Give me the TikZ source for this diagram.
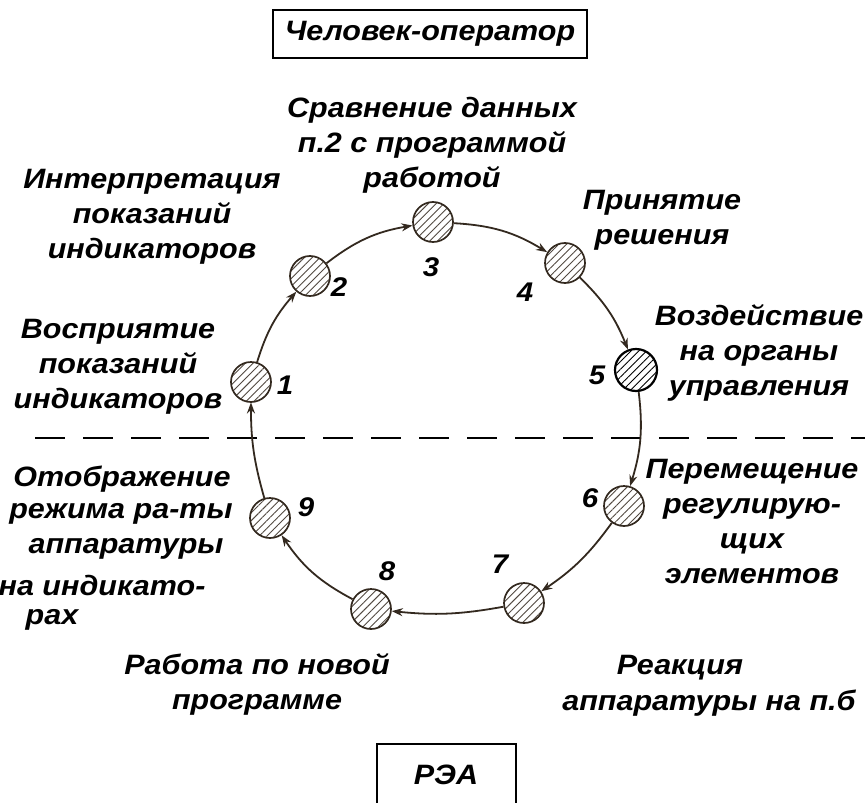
\documentclass[tikz,border=0pt]{standalone}
\usepackage{fontspec}
\setmainfont{Liberation Sans}[FakeStretch=1.09]
\usetikzlibrary{arrows.meta,patterns.meta}
\definecolor{ln}{HTML}{33291F}
\tikzset{
  st/.style={circle, draw=ln, line width=1.7pt, minimum size=40pt, inner sep=0pt,
    pattern={Lines[angle=45,distance=5.5pt,line width=0.9pt]}, pattern color=ln!85},
  lbl/.style={font=\fontsize{28}{35}\selectfont\bfseries\itshape, align=center, inner sep=0pt},
  num/.style={font=\fontsize{27}{30}\selectfont\bfseries\itshape, inner sep=0pt},
  con/.style={draw=ln, line width=1.8pt, -{Stealth[length=11pt,width=8pt]}},
  box/.style={draw, line width=2pt, inner sep=0pt, font=\fontsize{28}{30}\selectfont\bfseries\itshape},
}
\begin{document}
\begin{tikzpicture}[x=1pt,y=-1pt]
\fill[white] (0,0) rectangle (865,803);
\useasboundingbox (0,0) rectangle (865,803);

% boxes
\node[box, minimum width=314pt, minimum height=48pt] (op) at (430,34) {Человек-оператор};
\node[box, minimum width=139pt, minimum height=80pt, anchor=north] (rea) at (446,743) {};
\node[lbl] (reat) at (446,775) {РЭА};

% dashed boundary
\draw[dash pattern=on 30pt off 18pt, line width=2.5pt] (35,438) -- (865,438);

% stations
\node[st] (s1) at (251,382) {};
\node[st] (s2) at (310,276) {};
\node[st] (s3) at (433,222) {};
\node[st] (s4) at (565,263) {};
\node[st, minimum size=42pt, draw=black, line width=2.2pt, pattern color=black] (s5) at (636,370) {};
\node[st] (s6) at (624,506) {};
\node[st] (s7) at (524,603) {};
\node[st] (s8) at (371,609) {};
\node[st] (s9) at (270,518) {};

% connectors
\draw[con] (s1) to[bend left=12] (s2);
\draw[con] (s2) to[bend left=14] (s3);
\draw[con] (s3) to[bend left=14] (s4);
\draw[con] (s4) to[bend left=12] (s5);
\draw[con] (s5) to[bend left=12] (s6);
\draw[con] (s6) to[bend left=10] (s7);
\draw[con] (s7) to[bend left=8] (s8);
\draw[con] (s8) to[bend left=14] (s9);
\draw[con] (s9) to[bend left=8] (s1);

% numbers
\node[num] (n1) at (285,385) {1};
\node[num] (n2) at (339,287) {2};
\node[num] (n3) at (431,267) {3};
\node[num] (n4) at (525,292) {4};
\node[num] (n5) at (597,375) {5};
\node[num] (n6) at (590,498) {6};
\node[num] (n7) at (500,564) {7};
\node[num] (n8) at (387,571) {8};
\node[num] (n9) at (306,507) {9};

% labels
\node[lbl] (t3) at (432,145) {Сравнение данных\\п.2 с программой\\работой};
\node[lbl] (t2) at (152,217) {Интерпретация\\показаний\\индикаторов};
\node[lbl] (t4) at (662,220) {Принятие\\решения};
\node[lbl] (t5) at (759,353) {Воздействие\\на органы\\управления};
\node[lbl] (t1) at (118,367) {Восприятие\\показаний\\индикаторов};
\node[lbl] (t6) at (752,521) {Перемещение\\регулирую-\\щих\\элементов};
\node[lbl] (t9a) at (122,479) {Отображение};
\node[lbl] (t9b) at (121,514) {режима ра-ты};
\node[lbl] (t9c) at (126,549) {аппаратуры};
\node[lbl] (t9d) at (102,585) {на индикато-};
\node[lbl] (t9e) at (52,620) {рах};
\node[lbl] (t8) at (257,684) {Работа по новой\\программе};
\node[lbl] (t7a) at (680,668) {Реакция};
\node[lbl] (t7b) at (709,703) {аппаратуры на п.б};
\end{tikzpicture}
\end{document}
